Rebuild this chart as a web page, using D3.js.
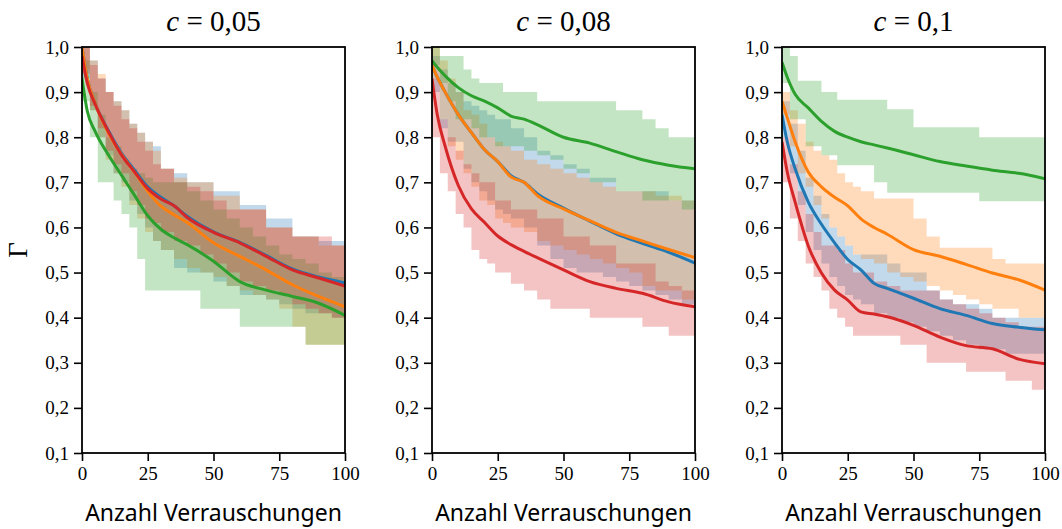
<!doctype html>
<html>
  <head>
    <meta charset="utf-8">
    <title>Gamma vs. Anzahl Verrauschungen</title>
    <script src="https://cdnjs.cloudflare.com/ajax/libs/d3/7.8.5/d3.min.js"></script>
    <style>
      body { margin: 0; background: #fff; }
      .tick text { font-family: "Liberation Serif", serif; font-size: 19px; fill: #000; }
    </style>
  </head>
  <body>
    <div id="chart"></div>
    <script>
      // Data
      const titles = ['0,05', '0,08', '0,1'];
      const seriesNames = ['blue', 'orange', 'green', 'red'];
      const colors = ['#1f77b4', '#ff7f0e', '#2ca02c', '#d62728'];
      const yTicks = [0.1, 0.2, 0.3, 0.4, 0.5, 0.6, 0.7, 0.8, 0.9, 1.0];
      const xTicks = [0, 25, 50, 75, 100];

      // mean curves, sampled at lineX
      const lineX = [0, 2, 5, 10, 15, 20, 25, 30, 35, 40, 50, 60, 70, 80, 90, 100];
      const p1Blue   = [1.0, 0.93, 0.875, 0.815, 0.765, 0.727, 0.69, 0.667, 0.648, 0.625, 0.59, 0.567, 0.538, 0.508, 0.49, 0.477];
      const p1Orange = [1.0, 0.93, 0.875, 0.81, 0.762, 0.722, 0.68, 0.647, 0.628, 0.611, 0.566, 0.536, 0.506, 0.473, 0.447, 0.424];
      const p1Green  = [0.93, 0.858, 0.813, 0.761, 0.716, 0.671, 0.626, 0.596, 0.577, 0.562, 0.525, 0.48, 0.461, 0.447, 0.432, 0.405];
      const p1Red    = [0.98, 0.92, 0.873, 0.813, 0.761, 0.723, 0.686, 0.663, 0.648, 0.622, 0.589, 0.566, 0.536, 0.506, 0.488, 0.470];

      const p2Blue   = [0.96, 0.933, 0.90, 0.85, 0.81, 0.772, 0.746, 0.715, 0.70, 0.675, 0.643, 0.614, 0.586, 0.565, 0.545, 0.521];
      const p2Orange = [0.96, 0.933, 0.90, 0.85, 0.81, 0.772, 0.746, 0.712, 0.70, 0.671, 0.641, 0.615, 0.589, 0.57, 0.551, 0.533];
      const p2Green  = [0.97, 0.955, 0.936, 0.91, 0.892, 0.88, 0.865, 0.847, 0.84, 0.828, 0.80, 0.787, 0.768, 0.75, 0.738, 0.73];
      const p2Red    = [0.93, 0.85, 0.78, 0.693, 0.641, 0.611, 0.581, 0.562, 0.547, 0.533, 0.506, 0.48, 0.465, 0.454, 0.435, 0.424];

      const p3Blue   = [0.85, 0.79, 0.73, 0.656, 0.607, 0.566, 0.529, 0.506, 0.476, 0.465, 0.443, 0.42, 0.405, 0.387, 0.379, 0.373];
      const p3Orange = [0.88, 0.843, 0.79, 0.723, 0.69, 0.667, 0.648, 0.619, 0.60, 0.585, 0.551, 0.536, 0.518, 0.499, 0.484, 0.461];
      const p3Green  = [0.966, 0.933, 0.895, 0.865, 0.835, 0.813, 0.80, 0.79, 0.783, 0.776, 0.761, 0.746, 0.736, 0.727, 0.72, 0.708];
      const p3Red    = [0.79, 0.723, 0.656, 0.559, 0.499, 0.461, 0.439, 0.413, 0.408, 0.402, 0.383, 0.357, 0.338, 0.331, 0.308, 0.298];

      // min/max bands (step), sampled at bandX
      const bandX = [0, 3, 6, 9, 12, 15, 18, 21, 24, 27, 30, 35, 40, 45, 50, 55, 60, 65, 70, 75, 80, 85, 90, 95, 100];
      const p1BlueHi   = [1.0, 0.97, 0.93, 0.90, 0.88, 0.86, 0.83, 0.81, 0.79, 0.78, 0.73, 0.72, 0.70, 0.70, 0.68, 0.68, 0.65, 0.65, 0.62, 0.62, 0.58, 0.58, 0.57, 0.57, 0.57];
      const p1BlueLo   = [0.93, 0.86, 0.80, 0.76, 0.72, 0.70, 0.66, 0.63, 0.60, 0.57, 0.55, 0.51, 0.50, 0.50, 0.48, 0.47, 0.45, 0.45, 0.44, 0.43, 0.42, 0.41, 0.41, 0.40, 0.40];
      const p1OrangeHi = [1.0, 0.97, 0.94, 0.90, 0.88, 0.86, 0.83, 0.81, 0.79, 0.77, 0.73, 0.71, 0.70, 0.70, 0.67, 0.67, 0.64, 0.64, 0.60, 0.60, 0.58, 0.58, 0.56, 0.56, 0.55];
      const p1OrangeLo = [0.95, 0.86, 0.80, 0.75, 0.72, 0.69, 0.65, 0.62, 0.59, 0.57, 0.55, 0.53, 0.51, 0.50, 0.49, 0.47, 0.46, 0.45, 0.44, 0.42, 0.38, 0.34, 0.34, 0.34, 0.34];
      const p1GreenHi  = [0.97, 0.90, 0.85, 0.80, 0.78, 0.75, 0.73, 0.72, 0.71, 0.70, 0.70, 0.70, 0.68, 0.66, 0.64, 0.62, 0.60, 0.58, 0.56, 0.54, 0.53, 0.52, 0.50, 0.49, 0.48];
      const p1GreenLo  = [0.88, 0.80, 0.70, 0.70, 0.66, 0.63, 0.60, 0.53, 0.46, 0.46, 0.46, 0.46, 0.46, 0.42, 0.42, 0.42, 0.38, 0.38, 0.38, 0.38, 0.38, 0.34, 0.34, 0.34, 0.34];
      const p1RedHi    = [1.0, 0.96, 0.93, 0.90, 0.87, 0.84, 0.82, 0.79, 0.77, 0.74, 0.73, 0.70, 0.69, 0.68, 0.66, 0.64, 0.64, 0.64, 0.60, 0.60, 0.58, 0.58, 0.58, 0.56, 0.56];
      const p1RedLo    = [0.94, 0.87, 0.82, 0.77, 0.74, 0.72, 0.68, 0.65, 0.62, 0.61, 0.59, 0.57, 0.56, 0.54, 0.52, 0.50, 0.48, 0.47, 0.46, 0.45, 0.43, 0.42, 0.41, 0.40, 0.40];

      const p2BlueHi   = [0.98, 0.95, 0.92, 0.90, 0.88, 0.87, 0.86, 0.85, 0.84, 0.84, 0.82, 0.80, 0.77, 0.76, 0.74, 0.73, 0.71, 0.71, 0.68, 0.68, 0.68, 0.68, 0.66, 0.66, 0.65];
      const p2BlueLo   = [0.90, 0.82, 0.79, 0.79, 0.73, 0.70, 0.68, 0.66, 0.64, 0.63, 0.62, 0.60, 0.56, 0.53, 0.51, 0.50, 0.50, 0.49, 0.48, 0.47, 0.46, 0.45, 0.44, 0.43, 0.42];
      const p2OrangeHi = [1.0, 0.97, 0.93, 0.90, 0.86, 0.85, 0.83, 0.80, 0.79, 0.78, 0.77, 0.75, 0.74, 0.73, 0.72, 0.71, 0.70, 0.69, 0.68, 0.68, 0.68, 0.67, 0.67, 0.66, 0.66];
      const p2OrangeLo = [0.93, 0.84, 0.78, 0.75, 0.72, 0.69, 0.66, 0.65, 0.62, 0.61, 0.60, 0.59, 0.57, 0.56, 0.55, 0.54, 0.53, 0.52, 0.51, 0.50, 0.47, 0.46, 0.46, 0.44, 0.44];
      const p2GreenHi  = [1.0, 0.98, 0.98, 0.98, 0.95, 0.93, 0.92, 0.92, 0.92, 0.90, 0.90, 0.90, 0.88, 0.88, 0.88, 0.88, 0.88, 0.88, 0.86, 0.86, 0.84, 0.82, 0.80, 0.80, 0.80];
      const p2GreenLo  = [0.96, 0.92, 0.88, 0.84, 0.84, 0.82, 0.80, 0.80, 0.78, 0.78, 0.78, 0.77, 0.76, 0.75, 0.73, 0.72, 0.70, 0.70, 0.68, 0.68, 0.66, 0.66, 0.66, 0.64, 0.64];
      const p2RedHi    = [0.93, 0.84, 0.80, 0.77, 0.74, 0.72, 0.70, 0.70, 0.66, 0.66, 0.64, 0.64, 0.62, 0.62, 0.58, 0.58, 0.56, 0.56, 0.52, 0.52, 0.52, 0.48, 0.47, 0.46, 0.46];
      const p2RedLo    = [0.80, 0.72, 0.68, 0.63, 0.60, 0.55, 0.53, 0.52, 0.50, 0.50, 0.475, 0.46, 0.44, 0.42, 0.42, 0.42, 0.40, 0.40, 0.40, 0.40, 0.38, 0.38, 0.36, 0.36, 0.36];

      const p3BlueHi   = [0.88, 0.83, 0.77, 0.71, 0.67, 0.63, 0.60, 0.58, 0.56, 0.54, 0.54, 0.54, 0.52, 0.50, 0.50, 0.46, 0.44, 0.43, 0.43, 0.42, 0.40, 0.40, 0.40, 0.40, 0.40];
      const p3BlueLo   = [0.80, 0.72, 0.65, 0.59, 0.55, 0.52, 0.49, 0.47, 0.45, 0.44, 0.43, 0.41, 0.40, 0.39, 0.38, 0.37, 0.36, 0.35, 0.34, 0.33, 0.33, 0.32, 0.32, 0.32, 0.32];
      const p3OrangeHi = [0.90, 0.86, 0.83, 0.79, 0.77, 0.76, 0.75, 0.72, 0.70, 0.69, 0.68, 0.664, 0.664, 0.664, 0.62, 0.58, 0.555, 0.555, 0.555, 0.555, 0.53, 0.52, 0.52, 0.52, 0.52];
      const p3OrangeLo = [0.85, 0.78, 0.72, 0.69, 0.65, 0.62, 0.60, 0.58, 0.56, 0.54, 0.53, 0.52, 0.50, 0.49, 0.48, 0.47, 0.46, 0.45, 0.44, 0.43, 0.42, 0.42, 0.40, 0.40, 0.40];
      const p3GreenHi  = [1.0, 0.98, 0.925, 0.925, 0.925, 0.90, 0.90, 0.883, 0.883, 0.883, 0.883, 0.883, 0.862, 0.862, 0.822, 0.822, 0.822, 0.822, 0.822, 0.80, 0.80, 0.80, 0.80, 0.80, 0.80];
      const p3GreenLo  = [0.92, 0.84, 0.84, 0.78, 0.78, 0.76, 0.76, 0.738, 0.738, 0.738, 0.738, 0.70, 0.677, 0.677, 0.677, 0.677, 0.677, 0.677, 0.677, 0.658, 0.658, 0.658, 0.658, 0.658, 0.658];
      const p3RedHi    = [0.80, 0.74, 0.68, 0.63, 0.59, 0.56, 0.56, 0.55, 0.52, 0.50, 0.50, 0.48, 0.47, 0.46, 0.46, 0.46, 0.44, 0.43, 0.42, 0.41, 0.40, 0.39, 0.38, 0.38, 0.38];
      const p3RedLo    = [0.70, 0.62, 0.57, 0.52, 0.49, 0.46, 0.42, 0.40, 0.38, 0.36, 0.36, 0.36, 0.36, 0.34, 0.34, 0.30, 0.30, 0.30, 0.28, 0.28, 0.28, 0.26, 0.26, 0.24, 0.24];

      const panels = [
        { lines: [p1Blue, p1Orange, p1Green, p1Red],
          hi: [p1BlueHi, p1OrangeHi, p1GreenHi, p1RedHi],
          lo: [p1BlueLo, p1OrangeLo, p1GreenLo, p1RedLo] },
        { lines: [p2Blue, p2Orange, p2Green, p2Red],
          hi: [p2BlueHi, p2OrangeHi, p2GreenHi, p2RedHi],
          lo: [p2BlueLo, p2OrangeLo, p2GreenLo, p2RedLo] },
        { lines: [p3Blue, p3Orange, p3Green, p3Red],
          hi: [p3BlueHi, p3OrangeHi, p3GreenHi, p3RedHi],
          lo: [p3BlueLo, p3OrangeLo, p3GreenLo, p3RedLo] }
      ];

      // Layout
      const width = 1062, height = 529;
      const panelLeft = [82, 432, 782];
      const panelW = 263;
      const plotTop = 47, plotBottom = 453;

      const svg = d3.select('#chart')
        .append('svg')
        .attr('width', width)
        .attr('height', height);

      const y = d3.scaleLinear().domain([0.1, 1.0]).range([plotBottom, plotTop]);
      const fmt = d => d3.format('.1f')(d).replace('.', ',');

      panels.forEach((p, i) => {
        const x = d3.scaleLinear().domain([0, 100]).range([panelLeft[i], panelLeft[i] + panelW]);
        const g = svg.append('g');

        const clipId = 'clip' + i;
        svg.append('clipPath').attr('id', clipId)
          .append('rect')
          .attr('x', panelLeft[i]).attr('y', plotTop)
          .attr('width', panelW).attr('height', plotBottom - plotTop);

        const plot = g.append('g').attr('clip-path', `url(#${clipId})`);

        // bands
        const area = d3.area()
          .curve(d3.curveStepAfter)
          .x(d => x(d.x))
          .y0(d => y(d.lo))
          .y1(d => y(d.hi));

        seriesNames.forEach((name, s) => {
          const rows = bandX.map((bx, k) => ({ x: bx, lo: p.lo[s][k], hi: p.hi[s][k] }));
          plot.append('path')
            .datum(rows)
            .attr('fill', colors[s])
            .attr('fill-opacity', 0.28)
            .attr('d', area);
        });

        // mean lines
        const line = d3.line()
          .curve(d3.curveMonotoneX)
          .x(d => x(d.x))
          .y(d => y(d.v));

        seriesNames.forEach((name, s) => {
          plot.append('path')
            .datum(lineX.map((lx, k) => ({ x: lx, v: p.lines[s][k] })))
            .attr('fill', 'none')
            .attr('stroke', colors[s])
            .attr('stroke-width', 3)
            .attr('stroke-linejoin', 'round')
            .attr('d', line);
        });

        // axes
        const yAxis = g.append('g')
          .attr('transform', `translate(${panelLeft[i]},0)`)
          .call(d3.axisLeft(y).tickValues(yTicks).tickFormat(fmt).tickSize(8).tickPadding(5));
        const xAxis = g.append('g')
          .attr('transform', `translate(0,${plotBottom})`)
          .call(d3.axisBottom(x).tickValues(xTicks).tickSize(8).tickPadding(6));
        [yAxis, xAxis].forEach(a => {
          a.select('.domain').remove();
          a.selectAll('.tick line').attr('stroke', '#000').attr('stroke-width', 1.6);
        });

        // frame
        g.append('rect')
          .attr('x', panelLeft[i]).attr('y', plotTop)
          .attr('width', panelW).attr('height', plotBottom - plotTop)
          .attr('fill', 'none')
          .attr('stroke', '#000')
          .attr('stroke-width', 1.8);

        // title
        const t = g.append('text')
          .attr('x', panelLeft[i] + panelW / 2)
          .attr('y', 31)
          .attr('text-anchor', 'middle')
          .attr('font-family', '"Liberation Serif", serif')
          .attr('font-size', 29);
        t.append('tspan').attr('font-style', 'italic').text('c');
        t.append('tspan').text(' = ' + titles[i]);

        // x label
        g.append('text')
          .attr('x', panelLeft[i] + panelW / 2)
          .attr('y', 521)
          .attr('text-anchor', 'middle')
          .attr('font-family', '"Noto Sans", sans-serif')
          .attr('font-size', 23)
          .text('Anzahl Verrauschungen');
      });

      // y label
      svg.append('text')
        .attr('transform', `translate(27,${(plotTop + plotBottom) / 2}) rotate(-90)`)
        .attr('text-anchor', 'middle')
        .attr('font-family', '"Liberation Serif", serif')
        .attr('font-size', 27)
        .text('Γ');
    </script>
  </body>
</html>
